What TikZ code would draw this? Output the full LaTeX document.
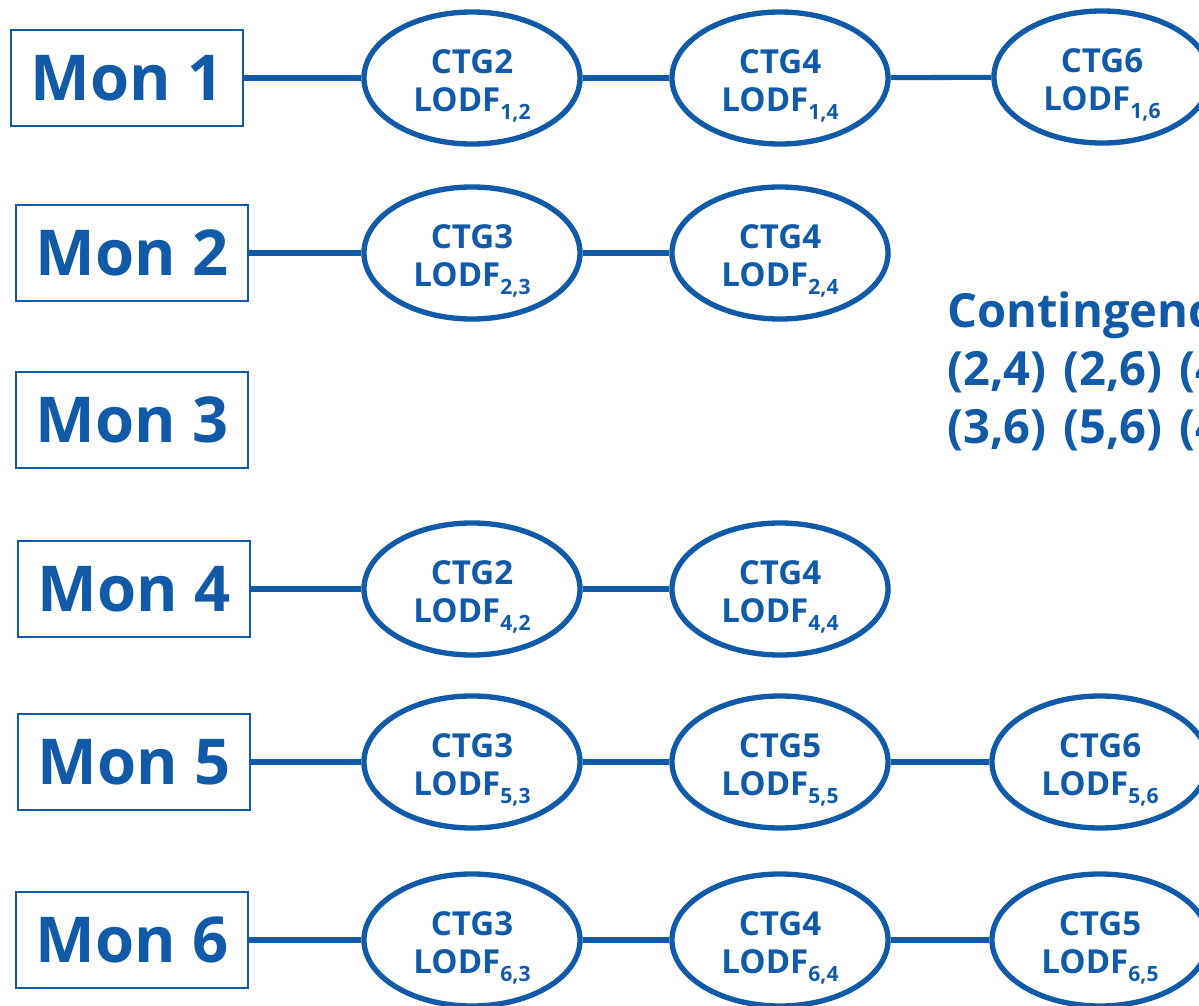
\documentclass[tikz,border=0pt]{standalone}
\usepackage{fontspec}
\setmainfont{Open Sans}
\usepackage{tikz}
\usetikzlibrary{shapes.geometric}
\definecolor{monblue}{RGB}{16,90,168}

\tikzset{
  monbox/.style={draw=monblue, line width=1.6pt, minimum width=5.8cm, minimum height=2.4cm,
    inner sep=0pt, text=monblue, font=\bfseries\fontsize{45}{50}\selectfont},
  ctg/.style={ellipse, draw=monblue, line width=3.8pt, minimum width=5.4cm, minimum height=3.3cm,
    inner sep=0pt, text=monblue, align=center, font=\bfseries\fontsize{23.5}{27}\selectfont},
  link/.style={draw=monblue, line width=3.6pt},
  conttext/.style={anchor=base west, inner sep=0pt, text=monblue,
    font=\bfseries\fontsize{33.5}{40}\selectfont},
}
\newcommand{\ctglabel}[2]{\rule{0pt}{28pt}CTG#2\\LODF\raisebox{-0.45ex}{\fontsize{15}{15}\selectfont #1,#2}}

\begin{document}
\begin{tikzpicture}[x=0.025cm, y=-0.025cm]
        \useasboundingbox (0,0) rectangle (1199,1006);
        \clip (0,0) rectangle (1199,1006);

        % Monitor 1
        \node [monbox] (m1) at (127,78) {Mon 1};
        \node [ctg] (c12) at (472,78) {\ctglabel{1}{2}};
        \node [ctg] (c14) at (780,78) {\ctglabel{1}{4}};
        \node [ctg] (c16) at (1102,77) {\ctglabel{1}{6}};
        \draw [link] (m1) -- (c12);
        \draw [link] (c12) -- (c14);
        \draw [link] (c14) -- (c16);

        % Monitor 2
        \node [monbox] (m2) at (132,253) {Mon 2};
        \node [ctg] (c23) at (472,253) {\ctglabel{2}{3}};
        \node [ctg] (c24) at (780,253) {\ctglabel{2}{4}};
        \draw [link] (m2) -- (c23);
        \draw [link] (c23) -- (c24);

        % Monitor 3
        \node [monbox] (m3) at (132,420) {Mon 3};

        % Monitor 4
        \node [monbox] (m4) at (134,589) {Mon 4};
        \node [ctg] (c42) at (472,589) {\ctglabel{4}{2}};
        \node [ctg] (c44) at (780,589) {\ctglabel{4}{4}};
        \draw [link] (m4) -- (c42);
        \draw [link] (c42) -- (c44);

        % Monitor 5
        \node [monbox] (m5) at (134,762) {Mon 5};
        \node [ctg] (c53) at (472,762) {\ctglabel{5}{3}};
        \node [ctg] (c55) at (780,762) {\ctglabel{5}{5}};
        \node [ctg] (c56) at (1100,762) {\ctglabel{5}{6}};
        \draw [link] (m5) -- (c53);
        \draw [link] (c53) -- (c55);
        \draw [link] (c55) -- (c56);

        % Monitor 6
        \node [monbox] (m6) at (132,940) {Mon 6};
        \node [ctg] (c63) at (472,940) {\ctglabel{6}{3}};
        \node [ctg] (c64) at (780,940) {\ctglabel{6}{4}};
        \node [ctg] (c65) at (1100,940) {\ctglabel{6}{5}};
        \draw [link] (m6) -- (c63);
        \draw [link] (c63) -- (c64);
        \draw [link] (c64) -- (c65);

        % Contingency pairs
        \node [conttext] (cont1) at (947,327) {Contingency};
        \node [conttext] (cont2) at (947,385) {(2,4)\hspace{0.35em}(2,6)\hspace{0.35em}(4,6)};
        \node [conttext] (cont3) at (947,443) {(3,6)\hspace{0.35em}(5,6)\hspace{0.35em}(4,5)};
    \end{tikzpicture}
\end{document}
